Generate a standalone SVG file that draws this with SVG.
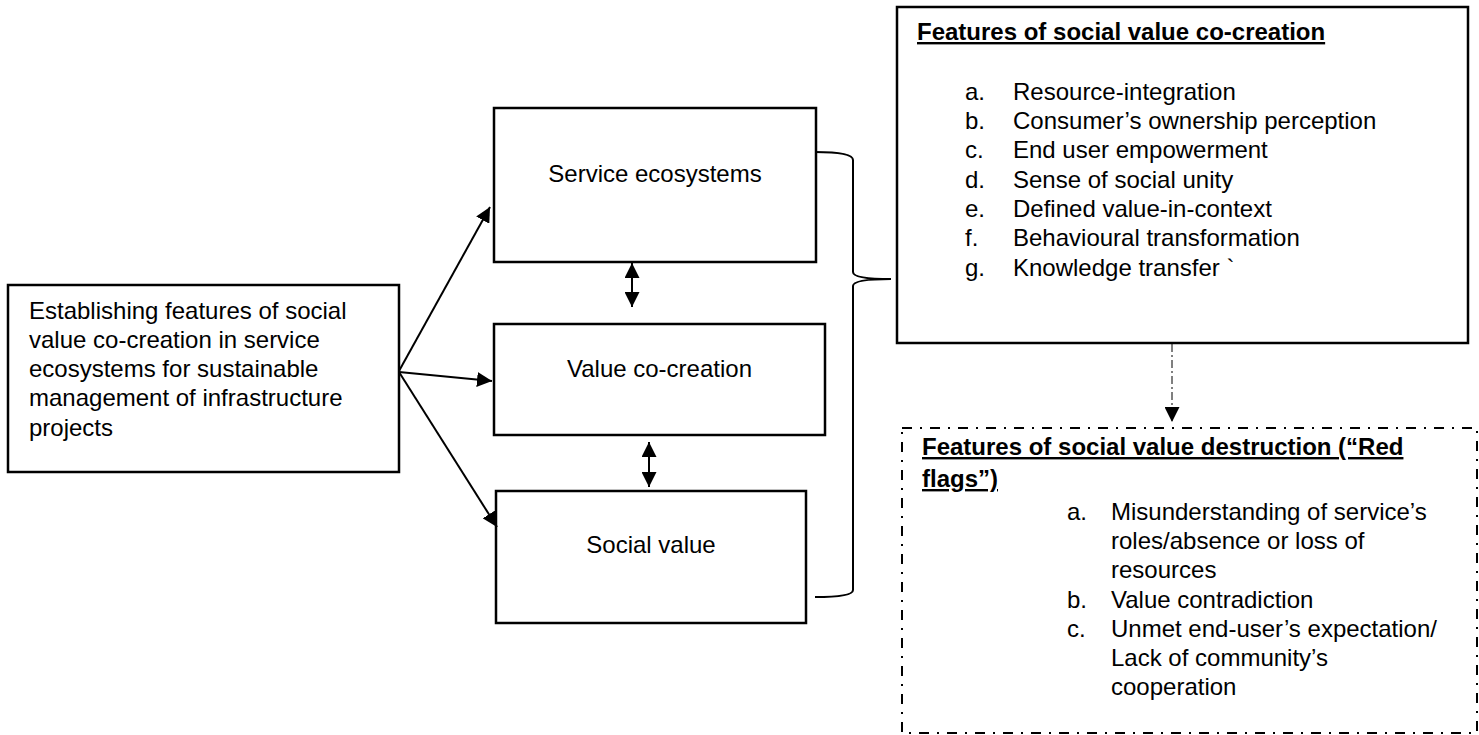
<svg xmlns="http://www.w3.org/2000/svg" width="1479" height="735" viewBox="0 0 1479 735">
<style>
text{font-family:"Liberation Sans",Arial,sans-serif;font-size:24px;fill:#000}
.b{font-weight:bold;text-decoration:underline}
.box{fill:#fff;stroke:#000;stroke-width:2.5}
.ln{fill:none;stroke:#000;stroke-width:2}
.mid{text-anchor:middle}
</style>
<defs>
<marker id="ah" viewBox="0 0 10 10" refX="10" refY="5" markerWidth="15" markerHeight="15" markerUnits="userSpaceOnUse" orient="auto-start-reverse"><path d="M0,0 L10,5 L0,10 Z" fill="#000"/></marker>
<marker id="ah2" viewBox="0 0 10 10" refX="10" refY="5" markerWidth="15" markerHeight="15" markerUnits="userSpaceOnUse" orient="auto"><path d="M0,0 L10,5 L0,10 Z" fill="#000"/></marker>
</defs>
<g id="node-start">
<rect class="box" x="8" y="285" width="391" height="187"/>
<text x="29" y="319">Establishing features of social</text>
<text x="29" y="348">value co-creation in service</text>
<text x="29" y="377">ecosystems for sustainable</text>
<text x="29" y="406">management of infrastructure</text>
<text x="29" y="436">projects</text>
</g>
<g id="node-service">
<rect class="box" x="494" y="108" width="322" height="154"/>
<text class="mid" x="655" y="182">Service ecosystems</text>
</g>
<g id="node-value">
<rect class="box" x="494" y="324" width="331" height="111"/>
<text class="mid" x="659.5" y="377">Value co-creation</text>
</g>
<g id="node-social">
<rect class="box" x="496" y="491" width="310" height="132"/>
<text class="mid" x="651" y="553">Social value</text>
</g>
<g id="node-features">
<rect class="box" x="897" y="7" width="571" height="336"/>
<text class="b" x="917" y="40">Features of social value co-creation</text>
<text x="965" y="100">a.</text><text x="1013" y="100">Resource-integration</text>
<text x="965" y="129">b.</text><text x="1013" y="129">Consumer’s ownership perception</text>
<text x="965" y="158">c.</text><text x="1013" y="158">End user empowerment</text>
<text x="965" y="188">d.</text><text x="1013" y="188">Sense of social unity</text>
<text x="965" y="217">e.</text><text x="1013" y="217">Defined value-in-context</text>
<text x="965" y="246">f.</text><text x="1013" y="246">Behavioural transformation</text>
<text x="965" y="276">g.</text><text x="1013" y="276">Knowledge transfer `</text>
</g>
<g id="node-redflags">
<rect x="902" y="428" width="575" height="305" fill="#fff" stroke="#000" stroke-width="2" stroke-dasharray="10 8 2 8"/>
<text class="b" x="922" y="455">Features of social value destruction (“Red</text>
<text class="b" x="922" y="487">flags”)</text>
<text x="1067" y="520">a.</text><text x="1111" y="520">Misunderstanding of service’s</text>
<text x="1111" y="549">roles/absence or loss of</text>
<text x="1111" y="578">resources</text>
<text x="1067" y="608">b.</text><text x="1111" y="608">Value contradiction</text>
<text x="1067" y="637">c.</text><text x="1111" y="637">Unmet end-user’s expectation/</text>
<text x="1111" y="666">Lack of community’s</text>
<text x="1111" y="695">cooperation</text>
</g>
<g id="connectors">
<line class="ln" x1="399" y1="371" x2="490" y2="207" marker-end="url(#ah2)"/>
<line class="ln" x1="399" y1="372" x2="492" y2="381" marker-end="url(#ah2)"/>
<line class="ln" x1="399" y1="372" x2="497" y2="527" marker-end="url(#ah2)"/>
<line class="ln" x1="632" y1="263" x2="632" y2="307" stroke-width="1.5" marker-start="url(#ah)" marker-end="url(#ah)"/>
<line class="ln" x1="649" y1="442" x2="649" y2="487" stroke-width="1.5" marker-start="url(#ah)" marker-end="url(#ah)"/>
<path class="ln" stroke-width="2.5" d="M815,152 Q853,152 853,160 L853,272 Q853,279 891,279 Q853,279 853,286 L853,590 Q853,597 815,597"/>
<line x1="1172" y1="344" x2="1172" y2="422" stroke="#000" stroke-width="1" stroke-dasharray="8 3 2 3" marker-end="url(#ah2)"/>
</g>
</svg>
